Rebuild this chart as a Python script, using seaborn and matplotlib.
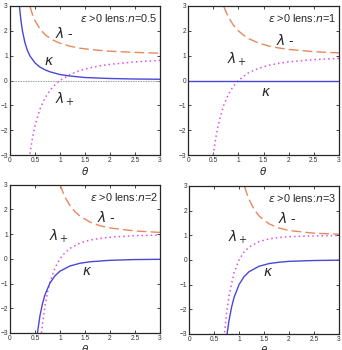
import seaborn as sns
import matplotlib.pyplot as plt
import pandas as pd

# n = 0.5
th_k1 = [0.19, 0.2, 0.22, 0.25, 0.3, 0.35, 0.4, 0.5, 0.6, 0.7, 0.8, 1.0, 1.2, 1.5, 2.0, 2.5, 3.0]
kap1 = [3.0, 2.8, 2.42, 2.0, 1.52, 1.21, 0.99, 0.71, 0.54, 0.43, 0.35, 0.24, 0.18, 0.12, 0.08, 0.06, 0.05]
th_m1 = [0.4, 0.45, 0.5, 0.6, 0.7, 0.8, 0.9, 1.0, 1.2, 1.4, 1.6, 1.8, 2.0, 2.5, 3.0]
lmin1 = [2.98, 2.66, 2.41, 2.08, 1.85, 1.70, 1.59, 1.50, 1.38, 1.30, 1.25, 1.21, 1.18, 1.13, 1.10]
lplus1 = [-2.95, -2.31, -1.83, -1.15, -0.71, -0.40, -0.17, 0.0, 0.24, 0.40, 0.51, 0.59, 0.65, 0.75, 0.81]

# n = 1
th_k2 = [0.0, 3.0]
kap2 = [0.0, 0.0]
th_m2 = [0.71, 0.75, 0.8, 0.9, 1.0, 1.1, 1.2, 1.4, 1.6, 1.8, 2.0, 2.5, 3.0]
lmin2 = [2.98, 2.78, 2.56, 2.23, 2.0, 1.83, 1.69, 1.51, 1.39, 1.31, 1.25, 1.16, 1.11]
th_p2 = [0.5, 0.55, 0.6, 0.7, 0.8, 0.9, 1.0, 1.2, 1.4, 1.6, 1.8, 2.0, 2.5, 3.0]
lplus2 = [-3.0, -2.31, -1.78, -1.04, -0.56, -0.23, 0.0, 0.31, 0.49, 0.61, 0.69, 0.75, 0.84, 0.89]

# n = 2
th_k3 = [0.55, 0.6, 0.65, 0.7, 0.8, 0.9, 1.0, 1.2, 1.4, 1.6, 2.0, 2.5, 3.0]
kap3 = [-3.0, -2.31, -1.82, -1.46, -0.98, -0.69, -0.5, -0.29, -0.18, -0.12, -0.06, -0.03, -0.02]
th_m3 = [1.0, 1.1, 1.2, 1.3, 1.4, 1.6, 1.8, 2.0, 2.5, 3.0]
lmin3 = [3.0, 2.50, 2.16, 1.91, 1.73, 1.49, 1.34, 1.25, 1.13, 1.07]
th_p3 = [0.63, 0.65, 0.7, 0.75, 0.8, 0.9, 1.0, 1.1, 1.2, 1.4, 1.6, 1.8, 2.0, 2.5, 3.0]
lplus3 = [-3.0, -2.64, -1.92, -1.37, -0.95, -0.37, 0.0, 0.25, 0.42, 0.64, 0.76, 0.83, 0.875, 0.94, 0.96]

# n = 3
th_k4 = [0.76, 0.8, 0.85, 0.9, 1.0, 1.1, 1.2, 1.4, 1.6, 1.8, 2.0, 2.5, 3.0]
kap4 = [-3.0, -2.44, -1.92, -1.52, -1.0, -0.68, -0.48, -0.26, -0.15, -0.095, -0.06, -0.026, -0.012]
th_m4 = [1.11, 1.15, 1.2, 1.3, 1.4, 1.6, 1.8, 2.0, 2.5, 3.0]
lmin4 = [2.97, 2.72, 2.45, 2.05, 1.78, 1.46, 1.29, 1.19, 1.08, 1.04]
th_p4 = [0.71, 0.75, 0.8, 0.9, 1.0, 1.1, 1.2, 1.4, 1.6, 1.8, 2.0, 2.5, 3.0]
lplus4 = [-2.94, -2.16, -1.44, -0.52, 0.0, 0.32, 0.52, 0.74, 0.85, 0.905, 0.94, 0.97, 0.99]

panels = [
    dict(n="0.5", k=(th_k1, kap1), m=(th_m1, lmin1), p=(th_m1, lplus1),
         pos=[0.029, 0.557, 0.439, 0.426],
         lab_m=(0.9, 1.9), lab_p=(0.9, -0.75), lab_k=(0.68, 0.8), zero=True),
    dict(n="1", k=(th_k2, kap2), m=(th_m2, lmin2), p=(th_p2, lplus2),
         pos=[0.550, 0.557, 0.441, 0.426],
         lab_m=(1.75, 1.62), lab_p=(0.78, 0.85), lab_k=(1.45, -0.46), zero=False),
    dict(n="2", k=(th_k3, kap3), m=(th_m3, lmin3), p=(th_p3, lplus3),
         pos=[0.029, 0.049, 0.439, 0.423],
         lab_m=(1.75, 1.66), lab_p=(0.78, 0.9), lab_k=(1.45, -0.5), zero=False),
    dict(n="3", k=(th_k4, kap4), m=(th_m4, lmin4), p=(th_p4, lplus4),
         pos=[0.553, 0.046, 0.438, 0.423],
         lab_m=(1.77, 1.69), lab_p=(0.78, 0.9), lab_k=(1.47, -0.5), zero=False),
]

sns.set_style("ticks")
plt.rcParams['font.family'] = ['Liberation Sans', 'DejaVu Sans']

fig = plt.figure(figsize=(3.42, 3.5), dpi=100)

for p in panels:
    ax = fig.add_axes(p["pos"])
    if p["zero"]:
        ax.axhline(0, color="#999999", lw=0.6, ls=(0, (2, 1)))
    sns.lineplot(x=p["m"][0], y=p["m"][1], ax=ax, color="#e8885e", lw=1.0,
                 linestyle=(0, (7, 3)))
    sns.lineplot(x=p["p"][0], y=p["p"][1], ax=ax, color="#e050e0", lw=1.1,
                 linestyle=(0, (1, 2)))
    sns.lineplot(x=p["k"][0], y=p["k"][1], ax=ax, color="#4848d8", lw=1.0)
    ax.set_xlim(0, 3)
    ax.set_ylim(-3, 3)
    ax.set_xticks([0, 0.5, 1, 1.5, 2, 2.5, 3])
    ax.set_xticklabels(["0", "0.5", "1", "1.5", "2", "2.5", "3"])
    ax.set_yticks([-3, -2, -1, 0, 1, 2, 3])
    ax.tick_params(direction="in", length=2, width=0.6, labelsize=4.8, pad=1.5,
                   top=True, right=True, labelcolor="#333333")
    for s in ax.spines.values():
        s.set_linewidth(0.9)
    ax.set_xlabel(r"$\theta$", fontsize=7.5, labelpad=0.5)
    ax.set_ylabel("")
    ax.text(2.95, 2.5, r"$\varepsilon$ >0 lens:$n$=" + p["n"], ha="right",
            va="center", fontsize=7.8)
    ax.text(*p["lab_m"], r"$\lambda$ -", fontsize=10, va="center")
    ax.text(*p["lab_p"], r"$\lambda_+$", fontsize=10, va="center")
    ax.text(*p["lab_k"], r"$\kappa$", fontsize=10, va="center")

fig.savefig("out.png", dpi=100)
